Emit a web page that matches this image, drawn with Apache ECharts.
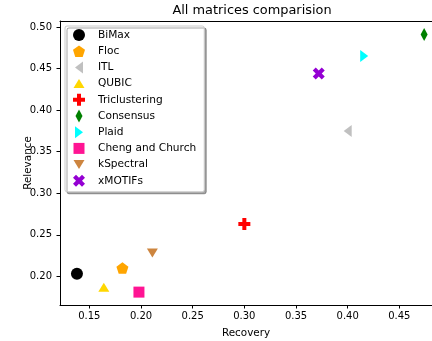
<!DOCTYPE html>
<html>
<head>
<meta charset="utf-8">
<script src="https://cdn.jsdelivr.net/npm/echarts@6/dist/echarts.min.js"></script>
<style>
html,body{margin:0;padding:0;background:#fff;}
#chart{width:432px;height:341px;}
</style>
</head>
<body>
<div id="chart"></div>
<script>
var methods = ['BiMax','Floc','ITL','QUBIC','Triclustering','Consensus','Plaid','Cheng and Church','kSpectral','xMOTIFs'];
var recovery = [0.138, 0.182, 0.400, 0.164, 0.300, 0.474, 0.416, 0.198, 0.211, 0.372];
var relevance = [0.203, 0.210, 0.375, 0.187, 0.263, 0.491, 0.465, 0.181, 0.228, 0.444];
var xTicks = [0.15, 0.20, 0.25, 0.30, 0.35, 0.40, 0.45];
var yTicks = [0.20, 0.25, 0.30, 0.35, 0.40, 0.45, 0.50];
var colors = ['#000000','#FFA500','#C0C0C0','#FFD700','#FF0000','#008000','#00FFFF','#FF1493','#CD853F','#9400D3'];
var shapes = ['circle','pentagon','triLeft','triUp','plus','thinDiamond','triRight','square','triDown','xfill'];
var sizes = [[12,12],[12,11.5],[8,12],[11,9],[12,12],[7,13],[8,12],[11,11],[11,9],[12,12]];

var X_MIN = 0.1216, X_MAX = 0.4816, Y_MIN = 0.1655, Y_MAX = 0.5072;

function poly(pts, cx, cy, w, h) {
  var s = '';
  for (var i = 0; i < pts.length; i++) {
    s += (i === 0 ? 'M' : 'L') + (cx + pts[i][0] * w / 2).toFixed(3) + ',' + (cy + pts[i][1] * h / 2).toFixed(3) + ' ';
  }
  return s + 'Z';
}
function shapePath(kind, cx, cy, w, h) {
  var p;
  if (kind === 'circle') {
    var r = w / 2;
    return 'M' + (cx - r) + ',' + cy + ' A' + r + ',' + r + ' 0 1 1 ' + (cx + r) + ',' + cy + ' A' + r + ',' + r + ' 0 1 1 ' + (cx - r) + ',' + cy + ' Z';
  }
  if (kind === 'pentagon') {
    p = [];
    for (var i = 0; i < 5; i++) {
      var a = -Math.PI / 2 + i * 2 * Math.PI / 5;
      p.push([Math.cos(a), Math.sin(a)]);
    }
    var minY = -1, maxY = Math.sin(-Math.PI / 2 + 2 * 2 * Math.PI / 5), maxX = Math.cos(-Math.PI / 2 + 2 * Math.PI / 5);
    p = p.map(function (q) { return [q[0] / maxX, ((q[1] - minY) / (maxY - minY)) * 2 - 1]; });
  } else if (kind === 'triUp') p = [[0,-1],[1,1],[-1,1]];
  else if (kind === 'triDown') p = [[-1,-1],[1,-1],[0,1]];
  else if (kind === 'triLeft') p = [[-1,0],[1,-1],[1,1]];
  else if (kind === 'triRight') p = [[-1,-1],[1,0],[-1,1]];
  else if (kind === 'square') p = [[-1,-1],[1,-1],[1,1],[-1,1]];
  else if (kind === 'thinDiamond') p = [[0,-1],[1,0],[0,1],[-1,0]];
  else if (kind === 'plus') p = [[-1,-3],[1,-3],[1,-1],[3,-1],[3,1],[1,1],[1,3],[-1,3],[-1,1],[-3,1],[-3,-1],[-1,-1]].map(function (q) { return [q[0] / 3, q[1] / 3]; });
  else if (kind === 'xfill') p = [[-1,-2],[0,-1],[1,-2],[2,-1],[1,0],[2,1],[1,2],[0,1],[-1,2],[-2,1],[-1,0],[-2,-1]].map(function (q) { return [q[0] / 2, q[1] / 2]; });
  return poly(p, cx, cy, w, h);
}

var LW = 28, LH = 14;
var series = methods.map(function (m, i) {
  return {
    type: 'scatter',
    name: m,
    data: [[recovery[i], relevance[i]]],
    symbol: shapes[i] === 'circle' ? 'circle' : 'path://' + shapePath(shapes[i], 0, 0, sizes[i][0], sizes[i][1]),
    symbolSize: sizes[i],
    itemStyle: { color: colors[i], opacity: 1 },
    emphasis: { disabled: true },
    z: 3
  };
});
var legendData = methods.map(function (m, i) {
  return {
    name: m,
    icon: 'path://M0,0 M' + LW + ',' + LH + ' ' + shapePath(shapes[i], LW / 2, LH / 2, sizes[i][0], sizes[i][1])
  };
});

var chart = echarts.init(document.getElementById('chart'), null, { renderer: 'canvas' });
var nameTxt = { fontFamily: 'DejaVu Sans', fontSize: 10.4, color: '#000' };
chart.setOption({
  animation: false,
  backgroundColor: '#fff',
  textStyle: { fontFamily: 'DejaVu Sans' },
  title: {
    text: 'All matrices comparision',
    left: 252, top: 4, padding: 0, textAlign: 'center',
    textStyle: { fontFamily: 'DejaVu Sans', fontSize: 12.9, fontWeight: 'normal', color: '#000' }
  },
  grid: {
    left: 60, top: 21, width: 372, height: 284, show: false,
    containLabel: false, outerBoundsMode: 'none'
  },
  legend: {
    orient: 'vertical',
    left: 65, top: 26,
    padding: [2, 8, 4, 0],
    itemWidth: LW, itemHeight: LH, itemGap: 2.2,
    symbolKeepAspect: true,
    data: legendData,
    textStyle: { fontFamily: 'DejaVu Sans', fontSize: 10.6, color: '#000' },
    backgroundColor: '#fff',
    borderColor: '#cccccc', borderWidth: 1, borderRadius: 2,
    shadowColor: 'rgba(0,0,0,0.35)', shadowBlur: 0, shadowOffsetX: 2, shadowOffsetY: 2,
    selectedMode: false
  },
  xAxis: [{
    type: 'value', min: X_MIN, max: X_MAX, position: 'bottom',
    splitLine: { show: false },
    axisLine: { show: true, onZero: false, lineStyle: { color: '#000', width: 1 } },
    axisTick: { show: true, length: 3.5, customValues: xTicks, lineStyle: { color: '#000' } },
    axisLabel: { customValues: xTicks, margin: 6, formatter: function (v) { return v.toFixed(2); }, fontFamily: 'DejaVu Sans', fontSize: 10, color: '#000' },
    name: 'Recovery', nameLocation: 'middle', nameGap: 23, nameMoveOverlap: false, nameTextStyle: nameTxt
  }, {
    type: 'value', min: X_MIN, max: X_MAX, position: 'top',
    splitLine: { show: false },
    axisLine: { show: true, onZero: false, lineStyle: { color: '#000', width: 1 } },
    axisTick: { show: false }, axisLabel: { show: false }
  }],
  yAxis: {
    type: 'value', min: Y_MIN, max: Y_MAX,
    splitLine: { show: false },
    axisLine: { show: true, onZero: false, lineStyle: { color: '#000', width: 1 } },
    axisTick: { show: true, length: 3.5, customValues: yTicks, lineStyle: { color: '#000' } },
    axisLabel: { customValues: yTicks, margin: 8, formatter: function (v) { return v.toFixed(2); }, fontFamily: 'DejaVu Sans', fontSize: 10, color: '#000' },
    name: 'Relevance', nameLocation: 'middle', nameGap: 27, nameMoveOverlap: false, nameTextStyle: nameTxt
  },
  series: series
});
</script>
</body>
</html>
